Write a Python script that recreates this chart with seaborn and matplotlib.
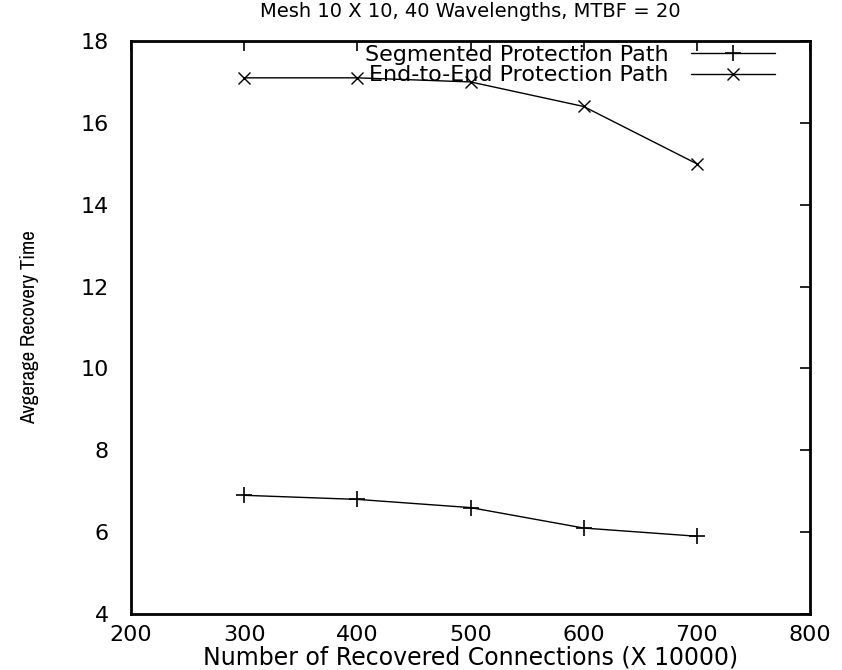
import matplotlib
matplotlib.use("Agg")
import matplotlib.pyplot as plt
from matplotlib import font_manager
import seaborn as sns
import pandas as pd

connections = [300, 400, 500, 600, 700]
segmented = [6.9, 6.8, 6.6, 6.1, 5.9]
end_to_end = [17.1, 17.1, 17.0, 16.4, 15.0]
x_ticks = [200, 300, 400, 500, 600, 700, 800]
y_ticks = [4, 6, 8, 10, 12, 14, 16, 18]

sns.set_style("white")
plt.rcParams['font.family'] = ['DejaVu Sans']
plt.rcParams['text.color'] = 'black'
plt.rcParams['axes.labelcolor'] = 'black'

# find a narrow/condensed face for the y label
narrow = None
for f in font_manager.fontManager.ttflist:
    n = f.name.lower()
    if 'narrow' in n or 'condensed' in n:
        narrow = (f.name, 'normal')
        break
if narrow is None:
    for f in font_manager.fontManager.ttflist:
        if str(f.stretch) in ('condensed', 'semi-condensed', 'extra-condensed') and f.style == 'normal':
            narrow = (f.name, f.stretch)
            break

df = pd.DataFrame({
    "x": connections * 2,
    "y": segmented + end_to_end,
    "series": ["Segmented Protection Path"] * 5 + ["End-to-End Protection Path"] * 5,
})

fig = plt.figure(figsize=(8.42, 6.70), dpi=100)
ax = fig.add_axes([131 / 842, 1 - 614 / 670, (810 - 131) / 842, (614 - 41) / 670])

fs = 16
sns.lineplot(data=df[df.series == "Segmented Protection Path"], x="x", y="y",
             color="black", linewidth=1, marker="+", markersize=11, markeredgewidth=1.2,
             markeredgecolor="black", label="Segmented Protection Path", ax=ax)
sns.lineplot(data=df[df.series == "End-to-End Protection Path"], x="x", y="y",
             color="black", linewidth=1, marker="x", markersize=9, markeredgewidth=1,
             markeredgecolor="black", label="End-to-End Protection Path", ax=ax)

ax.set_xlim(200, 800)
ax.set_ylim(4, 18)
ax.set_xticks(x_ticks)
ax.set_yticks(y_ticks)
ax.tick_params(direction="in", length=7, width=1.2, top=True, right=True,
               labelsize=fs, colors="black")
ax.tick_params(axis="x", pad=8)
ax.tick_params(axis="y", pad=16)
for s in ax.spines.values():
    s.set_visible(True)
    s.set_linewidth(2)
    s.set_color("black")

ax.set_xlabel("Number of Recovered Connections (X 10000)", fontsize=17, labelpad=0)
if narrow is not None:
    ax.set_ylabel("Avgerage Recovery Time", fontsize=15, family=[narrow[0], "DejaVu Sans"],
                  fontstretch=narrow[1], labelpad=30)
else:
    ax.set_ylabel("Avgerage Recovery Time", fontsize=14, labelpad=30)
ax.set_title("Mesh 10 X 10, 40 Wavelengths, MTBF = 20", fontsize=14, pad=17, color="black")

ax.legend(loc="upper right", bbox_to_anchor=(775 / 842, 1 - 45 / 670),
          bbox_transform=fig.transFigure, frameon=False, markerfirst=False,
          fontsize=fs, handlelength=3.8, handletextpad=1.0, labelspacing=0.02,
          borderpad=0, borderaxespad=0)
fig.savefig("out.png", dpi=100)
